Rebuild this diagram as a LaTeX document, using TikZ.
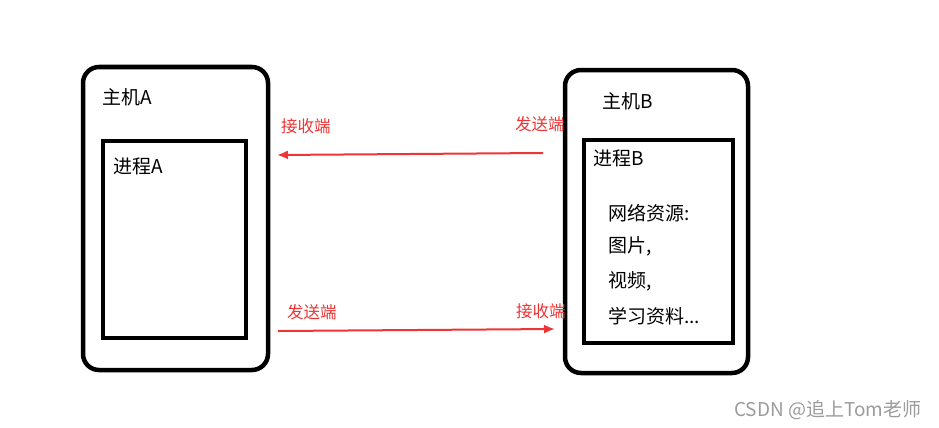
\documentclass[tikz,border=0pt]{standalone}
\usepackage{fontspec}
\setmainfont{Noto Sans CJK SC}
\usetikzlibrary{arrows.meta}
\definecolor{lbred}{RGB}{238,52,52}
\definecolor{wmgray}{RGB}{155,155,155}
\tikzset{
  host/.style={draw=black, line width=4.5pt, rounded corners=16pt},
  proc/.style={draw=black, line width=4pt},
  blk/.style={font=\fontsize{19}{22}\selectfont, anchor=west, inner sep=0pt},
  redlbl/.style={font=\fontsize{16.5}{19}\selectfont, text=lbred, anchor=west, inner sep=0pt},
  flow/.style={draw=lbred, line width=2pt, -{Latex[length=11pt,width=9pt]}},
}
\begin{document}
\begin{tikzpicture}[x=1pt,y=-1pt]
\useasboundingbox (0,0) rectangle (939,428);
% hosts
\draw[host] (83,67) rectangle (268,370);
\draw[host] (565,70) rectangle (748,373);
% processes
\draw[proc] (103,141) rectangle (246,338);
\draw[proc] (584,140) rectangle (733,343);
% host / process labels
\node[blk] (hA) at (102,97) {主机A};
\node[blk] (pA) at (113,166) {进程A};
\node[blk] (hB) at (602,101) {主机B};
\node[blk] (pB) at (593,158) {进程B};
\node[blk] (r1) at (608,213) {网络资源:};
\node[blk] (r2) at (608,246) {图片,};
\node[blk] (r3) at (608,281) {视频,};
\node[blk] (r4) at (608,316) {学习资料...};
% red labels
\node[redlbl] (recvA) at (281,126) {接收端};
\node[redlbl] (sendB) at (515,124) {发送端};
\node[redlbl] (sendA) at (287,312) {发送端};
\node[redlbl] (recvB) at (516,311) {接收端};
% arrows
\coordinate (t1) at (543,153);
\coordinate (t2) at (277,155);
\coordinate (b1) at (278,331);
\coordinate (b2) at (555,329);
\draw[flow] (t1) -- (t2);
\draw[flow] (b1) -- (b2);
% watermark
\node[font=\fontsize{19}{22}\selectfont, text=wmgray, anchor=west, inner sep=0pt] (wm) at (734,410) {CSDN @追上Tom老师};
\end{tikzpicture}
\end{document}
